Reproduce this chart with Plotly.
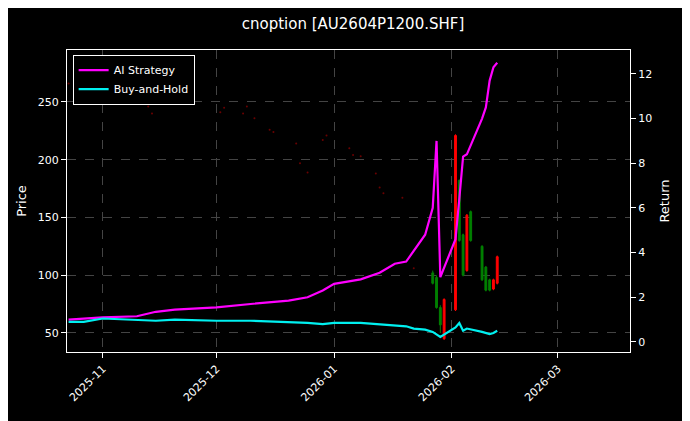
import plotly.graph_objects as go
from plotly.subplots import make_subplots

# candles (price axis)
candle_dates = ["2026-01-27", "2026-01-28", "2026-01-29", "2026-01-30", "2026-02-02", "2026-02-03",
                "2026-02-04", "2026-02-05", "2026-02-06", "2026-02-09", "2026-02-10", "2026-02-11",
                "2026-02-12", "2026-02-13"]
c_open = [102, 98, 72, 45, 70, 182, 135, 104, 155, 125, 107, 96, 88, 93]
c_close = [93, 72, 57, 79, 221, 130, 100, 152, 130, 96, 87, 87, 96, 116]
c_high = [104, 100, 74, 80, 222, 183, 136, 153, 156, 126, 108, 97, 97, 117]
c_low = [92, 71, 50, 44, 69, 129, 99, 103, 129, 95, 86, 86, 87, 92]

# near-flat bars seen as faint dots
dot_dates = ["2025-10-23", "2025-11-13", "2025-11-14", "2025-12-02", "2025-12-03", "2025-12-08",
             "2025-12-09", "2025-12-11", "2025-12-15", "2025-12-16", "2025-12-22", "2025-12-23",
             "2025-12-25", "2025-12-29", "2025-12-30", "2026-01-05", "2026-01-06", "2026-01-08",
             "2026-01-12", "2026-01-13", "2026-01-14", "2026-01-19", "2026-01-22"]
dot_price = [266, 246, 240, 241, 245, 240, 246, 236, 226, 224, 214, 197, 189, 217, 221, 210, 204,
             203, 188, 176, 171, 167, 106]

# returns (right axis)
ret_dates = ["2025-10-23", "2025-10-27", "2025-11-01", "2025-11-10", "2025-11-15", "2025-11-20",
             "2025-12-01", "2025-12-10", "2025-12-20", "2025-12-25", "2025-12-29", "2026-01-01",
             "2026-01-08", "2026-01-13", "2026-01-17", "2026-01-20", "2026-01-22", "2026-01-25",
             "2026-01-27", "2026-01-28", "2026-01-29", "2026-02-02", "2026-02-03", "2026-02-04",
             "2026-02-05", "2026-02-09", "2026-02-10", "2026-02-11", "2026-02-12", "2026-02-13"]
ai_strategy = [1.0, 1.05, 1.1, 1.15, 1.35, 1.45, 1.55, 1.7, 1.85, 2.0, 2.3, 2.6, 2.8, 3.1, 3.5,
               3.6, 4.1, 4.8, 6.0, 9.0, 2.9, 4.6, 6.4, 8.3, 8.4, 10.0, 10.5, 11.7, 12.3, 12.5]
buy_hold = [0.9, 0.9, 1.05, 1.0, 0.95, 1.0, 0.95, 0.95, 0.9, 0.85, 0.8, 0.85, 0.85, 0.8, 0.75,
            0.7, 0.6, 0.55, 0.45, 0.35, 0.22, 0.65, 0.85, 0.5, 0.6, 0.45, 0.4, 0.35, 0.4, 0.5]

fig = make_subplots(specs=[[{"secondary_y": True}]])

fig.add_trace(go.Candlestick(
    x=candle_dates, open=c_open, high=c_high, low=c_low, close=c_close,
    increasing=dict(line=dict(color="red", width=1), fillcolor="red"),
    decreasing=dict(line=dict(color="green", width=1), fillcolor="green"),
    whiskerwidth=0, showlegend=False), secondary_y=False)

fig.add_trace(go.Scatter(x=dot_dates, y=dot_price, mode="markers",
                         marker=dict(color="#6a0000", size=2), showlegend=False),
              secondary_y=False)

fig.add_trace(go.Scatter(x=ret_dates, y=ai_strategy, mode="lines", name="AI Strategy",
                         line=dict(color="#ff00ff", width=2.2)), secondary_y=True)
fig.add_trace(go.Scatter(x=ret_dates, y=buy_hold, mode="lines", name="Buy-and-Hold",
                         line=dict(color="#00f0f0", width=2.2)), secondary_y=True)

grid = dict(showgrid=True, gridcolor="#444", griddash="dash", gridwidth=0.5,
            showline=True, linecolor="white", mirror=True, ticks="outside",
            tickcolor="white", zeroline=False, automargin=False)

fig.update_xaxes(**grid, domain=[0, 1], range=["2025-10-22 14:00", "2026-03-20"],
                 tickvals=["2025-11-01", "2025-12-01", "2026-01-01", "2026-02-01", "2026-03-01"],
                 ticktext=["2025-11", "2025-12", "2026-01", "2026-02", "2026-03"],
                 tickangle=-45, rangeslider_visible=False)
fig.update_yaxes(**grid, range=[33.5, 295], tickvals=[50, 100, 150, 200, 250],
                 title_text="Price", title_standoff=8, secondary_y=False)
fig.update_yaxes(showgrid=False, range=[-0.45, 13.07], tickvals=[0, 2, 4, 6, 8, 10, 12],
                 ticks="outside", tickcolor="white", zeroline=False, automargin=False,
                 title_text="Return", title_standoff=8, secondary_y=True)

fig.update_layout(
    width=690, height=421,
    paper_bgcolor="black", plot_bgcolor="black",
    font=dict(family="DejaVu Sans", size=11, color="white"),
    title=dict(text="cnoption [AU2604P1200.SHF]", x=0.5, y=0.975, xanchor="center",
               font=dict(size=15)),
    margin=dict(l=59, r=68, t=42, b=77, autoexpand=False),
    legend=dict(x=0.01, y=0.985, xanchor="left", yanchor="top", bgcolor="black",
                bordercolor="white", borderwidth=1, font=dict(size=11)),
)
fig.update_layout(yaxis2=dict(anchor="x", position=1))

fig.write_html("out.html")
